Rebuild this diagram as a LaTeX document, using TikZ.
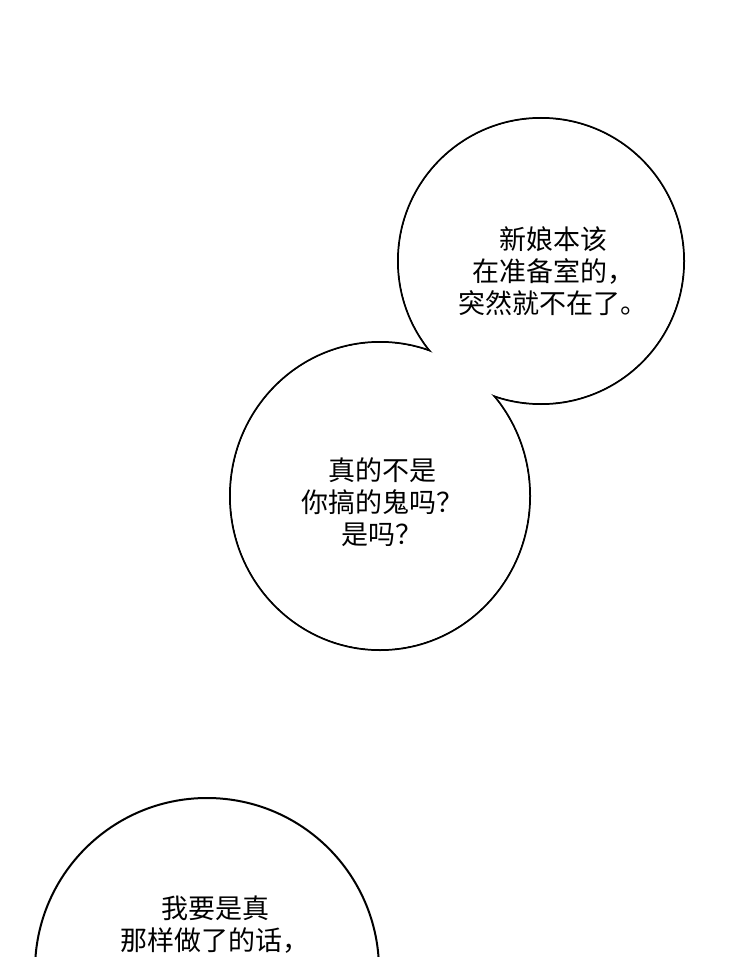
\documentclass[tikz,border=0pt]{standalone}
\usepackage{fontspec}
\newfontfamily\cjk{Noto Sans CJK SC}
\begin{document}
\begin{tikzpicture}[x=1pt,y=-1pt,
  txt/.style={font=\cjk\fontsize{27}{32}\selectfont,align=center,inner sep=0pt}]
\useasboundingbox (0,0) rectangle (740,957);
% bubbles 1 and 2 merged
\draw[line width=2] (541,261) circle[radius=143];
\draw[line width=2] (380,496) ellipse[x radius=150,y radius=154];
\fill[white] (541,261) circle[radius=142];
\fill[white] (380,496) ellipse[x radius=149,y radius=153];
% bubble 3
\draw[line width=2,fill=white] (207,970) circle[radius=172];
\node[txt] (t1) at (553,271) {新娘本该\\在准备室的，\\突然就不在了。};
\node[txt] (t2) at (382,502) {真的不是\\你搞的鬼吗？\\是吗？};
\node[txt] (t3) at (215,925) {我要是真\\那样做了的话，};
\end{tikzpicture}
\end{document}
